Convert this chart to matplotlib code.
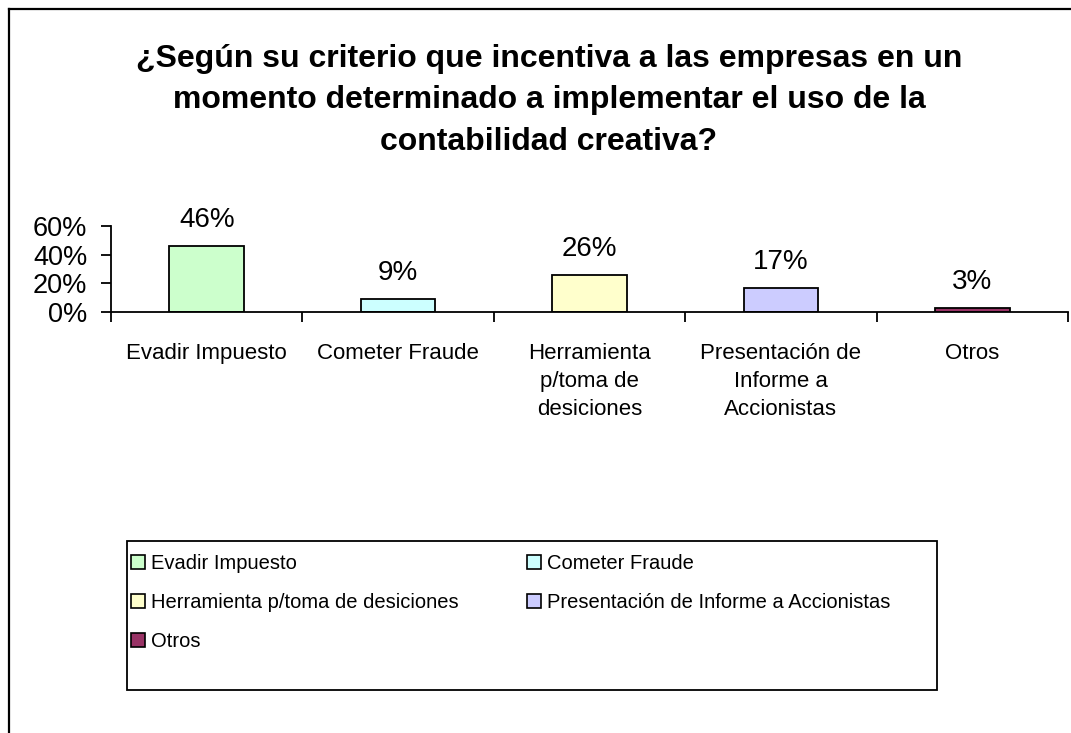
import matplotlib.pyplot as plt
from matplotlib.patches import Patch, Rectangle
from matplotlib.lines import Line2D
from matplotlib.ticker import PercentFormatter

plt.rcParams['font.family'] = ['Liberation Sans', 'DejaVu Sans']

# encuesta: motivos para usar contabilidad creativa
categorias = ['Evadir Impuesto', 'Cometer Fraude', 'Herramienta p/toma de desiciones',
              'Presentación de Informe a Accionistas', 'Otros']
etiquetas_eje = ['Evadir Impuesto', 'Cometer Fraude', 'Herramienta\np/toma de\ndesiciones',
                 'Presentación de\nInforme a\nAccionistas', 'Otros']
porcentajes = [0.46, 0.09, 0.26, 0.17, 0.03]
colores = ['#CCFFCC', '#CCFFFF', '#FFFFCC', '#CCCCFF', '#993366']

W, H = 1071, 733
fig = plt.figure(figsize=(W / 100, H / 100), dpi=100)

# area del grafico
x0, x1 = 111, 1068
y_cero, y_top = 312, 226
ax = fig.add_axes([x0 / W, 1 - y_cero / H, (x1 - x0) / W, (y_cero - y_top) / H])

pos = list(range(len(categorias)))
ax.bar(pos, porcentajes, width=0.39, color=colores, edgecolor='black', linewidth=1.3)

for x, v in zip(pos, porcentajes):
    ax.annotate('{:.0f}%'.format(v * 100), (x, v), xytext=(0, 13.5),
                textcoords='offset points', ha='center', va='baseline', fontsize=20)

ax.set_xlim(-0.5, len(categorias) - 0.5)
ax.set_ylim(0, 0.6)
ax.set_yticks([0, 0.2, 0.4, 0.6])
ax.yaxis.set_major_formatter(PercentFormatter(1.0, decimals=0))
ax.tick_params(axis='y', labelsize=19.5, length=7, width=1.3, pad=10)

ax.set_xticks(pos)
ax.set_xticklabels(etiquetas_eje, fontsize=16, linespacing=1.45)
ax.tick_params(axis='x', which='major', length=0, pad=22)
ax.set_xticks([p - 0.5 for p in pos] + [len(pos) - 0.5], minor=True)
ax.tick_params(axis='x', which='minor', length=7, width=1.3, direction='out')

for s in ['top', 'right']:
    ax.spines[s].set_visible(False)
for s in ['left', 'bottom']:
    ax.spines[s].set_linewidth(1.3)

fig.text(549 / W, 1 - 100 / H,
         '¿Según su criterio que incentiva a las empresas en un\n'
         'momento determinado a implementar el uso de la\n'
         'contabilidad creativa?',
         ha='center', va='center', fontsize=23, fontweight='bold', linespacing=1.5)

# leyenda en orden por filas (matplotlib llena por columnas)
orden = [0, 2, 4, 1, 3]
handles = [Patch(facecolor=colores[i], edgecolor='black', linewidth=1.2) for i in orden]
leg = fig.legend(handles, [categorias[i] for i in orden], ncol=2, loc='upper left',
                 bbox_to_anchor=(131 / W, 1 - 554 / H), fontsize=14.5,
                 frameon=False, handlelength=0.7, handleheight=0.7, handletextpad=0.3,
                 labelspacing=1.0, columnspacing=3.4, borderpad=0, borderaxespad=0)

fig.add_artist(Rectangle((127 / W, 1 - 690 / H), (937 - 127) / W, (690 - 541) / H,
                         transform=fig.transFigure, fill=False, edgecolor='black', lw=1.3))

# marco exterior (solo lados superior e izquierdo visibles)
fig.add_artist(Line2D([9 / W, 1], [1 - 9 / H, 1 - 9 / H], color='black', lw=1.6,
                      transform=fig.transFigure))
fig.add_artist(Line2D([9 / W, 9 / W], [1 - 9 / H, 0], color='black', lw=1.6,
                      transform=fig.transFigure))

fig.savefig('out.png', dpi=100)
